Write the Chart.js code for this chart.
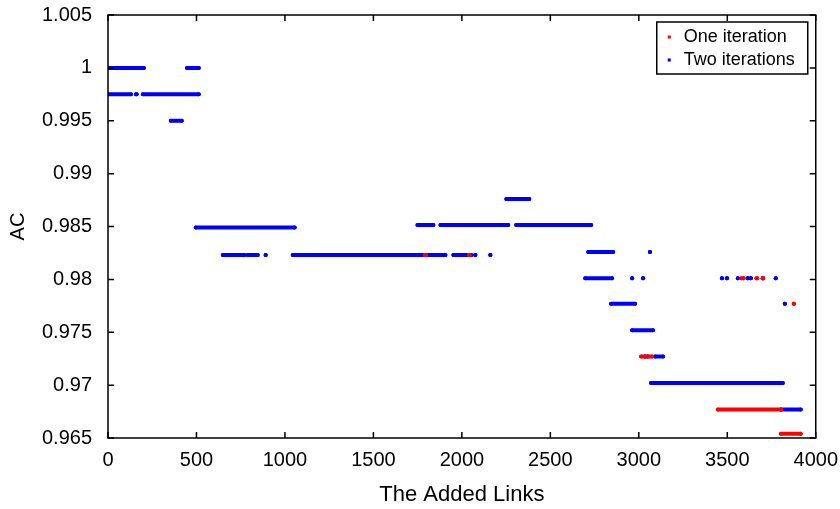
<!DOCTYPE html>
<html>
<head>
<meta charset="utf-8">
<script src="https://cdn.jsdelivr.net/npm/chart.js@4.4.1/dist/chart.umd.min.js"></script>
<style>
  body { margin: 0; background: #fff; }
  canvas { display: block; }
</style>
</head>
<body>
<canvas id="grafico" width="840" height="509"></canvas>
<script>
// each run of points is kept as a segment: start link, end link, AC level
let umStart = [1790, 2040, 3580, 3665, 3700, 3876, 3013, 3052, 3447, 3803];
let umEnd   = [1797, 2044, 3592, 3669, 3703, 3876, 3033, 3075, 3803, 3915];
let umAC    = [0.9823, 0.9823, 0.9801, 0.9801, 0.9801, 0.9777, 0.9727, 0.9727, 0.9677, 0.9654];

let doisStart = [0, 446, 0, 158, 197, 355, 496, 649, 733, 790, 891, 1044, 1952, 2076, 2161,
                 1749, 1879, 2307, 2251, 2714, 3063, 2697, 2962, 3024, 3470, 3498, 3560, 3616, 3633, 3701, 3774,
                 2843, 3825, 2962, 3035, 3092, 3069, 3803];
let doisEnd   = [203, 513, 130, 162, 513, 417, 1055, 727, 773, 846, 891, 1907, 2054, 2076, 2161,
                 1839, 2262, 2731, 2381, 2855, 3063, 2849, 2962, 3024, 3470, 3498, 3560, 3616, 3633, 3701, 3774,
                 2979, 3825, 3080, 3050, 3137, 3814, 3915];
let doisAC    = [1.0, 1.0, 0.9975, 0.9975, 0.9975, 0.995, 0.9849, 0.9823, 0.9823, 0.9823, 0.9823, 0.9823, 0.9823, 0.9823, 0.9823,
                 0.98514, 0.98514, 0.98514, 0.9876, 0.98259, 0.98259, 0.9801, 0.9801, 0.9801, 0.9801, 0.9801, 0.9801, 0.9801, 0.9801, 0.9801, 0.9801,
                 0.9777, 0.9777, 0.9752, 0.9727, 0.9727, 0.9702, 0.9677];

let xTicks = [0, 500, 1000, 1500, 2000, 2500, 3000, 3500, 4000];
let yTicks = [0.965, 0.97, 0.975, 0.98, 0.985, 0.99, 0.995, 1, 1.005];

function montaPontos(ini, fim, ac){
    let pts = [];
    for(let i=0; i<ini.length; i++){
        pts.push({x: ini[i], y: ac[i]});
        pts.push({x: fim[i], y: ac[i]});
        pts.push({x: fim[i], y: null}); // quebra a linha
    }
    return pts;
}

const fonte = 'Liberation Sans, Arial, sans-serif';

const moldura = {
    id: 'moldura',
    afterDraw(chart){
        const ctx = chart.ctx;
        const a = chart.chartArea;
        const sx = chart.scales.x, sy = chart.scales.y;
        ctx.save();
        ctx.strokeStyle = '#000';
        ctx.lineWidth = 1.5;
        ctx.strokeRect(a.left, a.top, a.right - a.left, a.bottom - a.top);
        // ticks para dentro nos quatro lados
        ctx.beginPath();
        for(const v of xTicks){
            const px = sx.getPixelForValue(v);
            ctx.moveTo(px, a.bottom); ctx.lineTo(px, a.bottom - 6);
            ctx.moveTo(px, a.top); ctx.lineTo(px, a.top + 6);
        }
        for(const v of yTicks){
            const py = sy.getPixelForValue(v);
            ctx.moveTo(a.left, py); ctx.lineTo(a.left + 6, py);
            ctx.moveTo(a.right, py); ctx.lineTo(a.right - 6, py);
        }
        ctx.stroke();

        // legenda dentro do grafico
        const lw = 151, lh = 52;
        const lx = a.right - 8 - lw, ly = a.top + 7;
        ctx.fillStyle = '#fff';
        ctx.fillRect(lx, ly, lw, lh);
        ctx.lineWidth = 1.5;
        ctx.strokeRect(lx, ly, lw, lh);
        ctx.font = '18px ' + fonte;
        ctx.textBaseline = 'middle';
        ctx.textAlign = 'left';
        chart.data.datasets.forEach((ds, i) => {
            const yy = ly + 15 + i * 23;
            ctx.fillStyle = ds.borderColor;
            ctx.fillRect(lx + 11, yy - 1.5, 3, 3);
            ctx.fillStyle = '#000';
            ctx.fillText(ds.label, lx + 27, yy);
        });
        ctx.restore();
    }
};

new Chart(document.getElementById('grafico'), {
    type: 'scatter',
    data: {
        datasets: [
            {
                label: 'One iteration',
                data: montaPontos(umStart, umEnd, umAC),
                showLine: true,
                borderColor: '#ff0000',
                backgroundColor: '#ff0000',
                borderWidth: 4,
                borderCapStyle: 'round',
                pointRadius: 2,
                pointBorderWidth: 0,
                spanGaps: false
            },
            {
                label: 'Two iterations',
                data: montaPontos(doisStart, doisEnd, doisAC),
                showLine: true,
                borderColor: '#0000ff',
                backgroundColor: '#0000ff',
                borderWidth: 4,
                borderCapStyle: 'round',
                pointRadius: 2,
                pointBorderWidth: 0,
                spanGaps: false
            }
        ]
    },
    options: {
        responsive: false,
        animation: false,
        layout: { padding: { top: 0, right: 14, left: 0, bottom: 0 } },
        plugins: {
            legend: { display: false },
            tooltip: { enabled: false }
        },
        scales: {
            x: {
                type: 'linear',
                min: 0,
                max: 4000,
                grid: { display: false },
                border: { display: false },
                afterBuildTicks: (s) => { s.ticks = xTicks.map(v => ({value: v})); },
                afterFit: (s) => { s.height = 71; },
                ticks: { color: '#000', font: { family: fonte, size: 20 }, padding: 2, maxRotation: 0,
                         callback: (v) => String(v) },
                title: { display: true, text: 'The Added Links', color: '#000',
                         font: { family: fonte, size: 22 }, padding: { top: 0, bottom: 1 } }
            },
            y: {
                min: 0.965,
                max: 1.005,
                grid: { display: false },
                border: { display: false },
                afterBuildTicks: (s) => { s.ticks = yTicks.map(v => ({value: v})); },
                afterFit: (s) => { s.width = 108; s.paddingTop = 15; s.paddingBottom = 0; },
                ticks: {
                    color: '#000',
                    font: { family: fonte, size: 20 },
                    padding: 8,
                    callback: (v) => String(Number(v.toFixed(3)))
                },
                title: { display: true, text: 'AC', color: '#000',
                         font: { family: fonte, size: 20 }, padding: { top: 6, bottom: 0 } }
            }
        }
    },
    plugins: [moldura]
});
</script>
</body>
</html>
